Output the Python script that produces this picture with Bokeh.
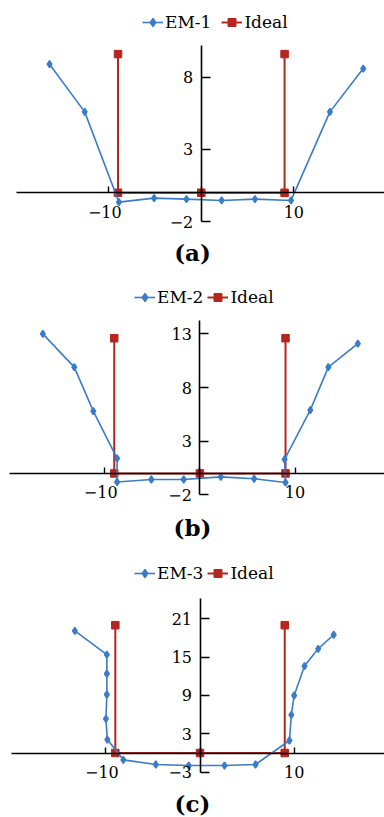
from bokeh.plotting import figure
from bokeh.layouts import column
from bokeh.models import (FixedTicker, Legend, LegendItem, Label, Range1d)
from bokeh.embed import file_html
from bokeh.resources import INLINE

# ---- data -------------------------------------------------------------
em1_x = [-16.4, -12.6, -8.9, -5.1, -1.6, 2.2, 5.8, 9.7, 13.9, 17.5]
em1_y = [8.9, 5.6, -0.65, -0.37, -0.44, -0.53, -0.44, -0.53, 5.6, 8.6]

em2_x = [-16.5, -13.2, -11.2, -8.7, -8.7, -5.1, -1.7, 2.2, 5.7, 9.0, 8.9, 11.6, 13.5, 16.6]
em2_y = [13.0, 9.9, 5.8, 1.4, -0.8, -0.57, -0.57, -0.32, -0.5, -0.85, 1.3, 5.9, 9.9, 12.1]

em3_x = [-13.3, -9.9, -9.9, -9.9, -10.0, -9.85, -8.15, -4.7, -1.2, 2.6, 5.9,
         9.5, 9.7, 10.0, 11.1, 12.55, 14.2]
em3_y = [19.1, 15.4, 12.4, 9.15, 5.35, 2.1, -1.07, -1.8, -1.96, -1.96, -1.8,
         1.96, 5.98, 9.0, 13.6, 16.3, 18.5]

ideal_x = [-9, -9, 0, 9, 9]
ideal1_y = [9.6, 0, 0, 0, 9.6]
ideal2_y = [12.6, 0, 0, 0, 12.6]
ideal3_y = [20, 0, 0, 0, 20]

x_ticks = [-10, 0, 10]
y1_ticks = [-2, 3, 8]
y2_ticks = [-2, 3, 8, 13]
y3_ticks = [-3, 3, 9, 15, 21]

BLUE = "#3b7cc8"
RED = "#b5261e"
SERIF = "DejaVu Serif"
W = 384


def panel(height, xr, yr, xbounds, ybounds, yticks, ex, ey, iy, name,
          caption, legend_xy, legend_spacing, caption_y):
    p = figure(width=W, height=height, x_range=Range1d(*xr), y_range=Range1d(*yr),
               output_backend="svg", toolbar_location=None, min_border=0,
               outline_line_color=None, background_fill_color="white",
               border_fill_color="white")
    p.grid.visible = False

    # axes crossing at the origin
    xa = p.xaxis[0]
    xa.fixed_location = 0
    xa.bounds = xbounds
    xa.ticker = FixedTicker(ticks=x_ticks)
    xa.major_tick_in = 6
    xa.major_tick_out = 0
    xa.minor_tick_line_color = None
    xa.axis_line_width = 1.6
    xa.major_tick_line_width = 1.4
    xa.major_label_overrides = {-10: "\u221210\u2002", 0: "", 10: "10"}
    xa.major_label_standoff = 10

    ya = p.yaxis[0]
    ya.fixed_location = 0
    ya.bounds = ybounds
    ya.ticker = FixedTicker(ticks=yticks)
    ya.major_tick_in = 9
    ya.major_tick_out = 0
    ya.minor_tick_line_color = None
    ya.axis_line_width = 1.6
    ya.major_tick_line_width = 1.4
    ya.major_label_overrides = {t: ("\u2212%d" % -t if t < 0 else str(t)) for t in yticks}
    ya.major_label_standoff = 8

    for ax in (xa, ya):
        ax.axis_line_color = "black"
        ax.major_tick_line_color = "black"
        ax.major_label_text_font = SERIF
        ax.major_label_text_font_size = "16px"
        ax.major_label_text_color = "black"

    # ideal response
    rl = p.line(ideal_x, iy, line_color=RED, line_width=2)
    rs = p.scatter(ideal_x, iy, marker="square", size=7.5, fill_color=RED,
                   line_color=RED)
    # measured response
    bl = p.line(ex, ey, line_color=BLUE, line_width=1.6)
    bs = p.scatter(ex, ey, marker="diamond", size=7, line_width=1.5,
                   fill_color=BLUE, line_color=BLUE)

    leg = Legend(items=[LegendItem(label=name, renderers=[bl, bs]),
                        LegendItem(label="Ideal", renderers=[rl, rs])],
                 orientation="horizontal", location=legend_xy,
                 border_line_color=None, background_fill_alpha=0,
                 padding=0, margin=0, spacing=legend_spacing, label_standoff=2,
                 glyph_width=21, glyph_height=20,
                 label_text_font=SERIF, label_text_font_size="17px",
                 label_text_color="black")
    p.add_layout(leg)

    p.add_layout(Label(x=W / 2, y=caption_y, x_units="screen", y_units="screen",
                       text=caption, text_align="center", text_baseline="middle",
                       text_font=SERIF, text_font_style="bold",
                       text_font_size="23px", text_color="black"))
    return p


pa = panel(270, (-21.7, 19.8), (-5.38, 13.31), (-20, 20), (-2, 10.2), y1_ticks,
           em1_x, em1_y, ideal1_y, "EM-1", "(a)", (142, 238), 10, 18)
pb = panel(275, (-20.95, 19.4), (-6.72, 18.91), (-20, 20), (-2, 14.25), y2_ticks,
           em2_x, em2_y, ideal2_y, "EM-2", "(b)", (134, 238), 4, 18)
pc = panel(272, (-21.2, 19.6), (-10.09, 32.47), (-20, 20), (-3, 24.1), y3_ticks,
           em3_x, em3_y, ideal3_y, "EM-3", "(c)", (134, 234), 4, 14)

layout = column(pa, pb, pc, spacing=0)
open("out.html", "w").write(file_html(layout, INLINE))
